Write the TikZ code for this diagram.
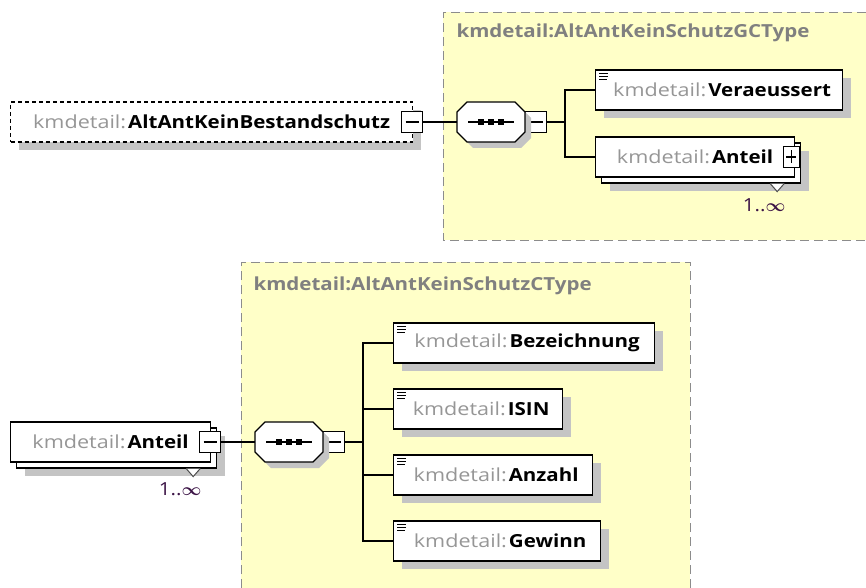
\documentclass[tikz,border=0pt]{standalone}
\usepackage{fontspec}
\setmainfont[FakeStretch=1.14]{Open Sans}
\newfontfamily\pfxfont[FakeStretch=1.2]{Open Sans}
\usetikzlibrary{shadows}

\definecolor{typebg}{RGB}{255,255,200}
\definecolor{typeline}{RGB}{140,140,140}
\definecolor{shadowgray}{RGB}{196,196,196}
\definecolor{pfxgray}{RGB}{150,150,150}
\definecolor{titlegray}{RGB}{128,128,128}
\definecolor{occcolor}{RGB}{60,20,70}

\newcommand{\kmname}[1]{{\pfxfont\color{pfxgray}kmdetail:}\hspace{2pt}\textbf{#1}}

\begin{document}
\begin{tikzpicture}[x=1pt,y=-1pt,font=\fontsize{18}{21}\selectfont,
    box/.style={draw, line width=1.2pt, fill=white, minimum height=40, inner sep=0pt},
    elem/.style={box, general shadow={shadow xshift=8pt, shadow yshift=-8pt, fill=shadowgray}},
    optelem/.style={elem, dash pattern=on 4pt off 3pt},
    multielem/.style={box,
        general shadow={shadow xshift=14pt, shadow yshift=-14pt, fill=shadowgray},
        general shadow={shadow xshift=6pt, shadow yshift=-6pt, fill=white, draw=black, line width=1.2pt}},
    seqnode/.style={minimum width=68, minimum height=40, inner sep=0pt},
    sign/.style={draw, line width=1.2pt, fill=white, minimum width=21, minimum height=21, inner sep=0pt},
    minus/.style={sign, path picture={\draw[line width=1.2pt] ([xshift=4pt]path picture bounding box.west) -- ([xshift=-4pt]path picture bounding box.east);}},
    plus/.style={sign, minimum width=16, path picture={
        \draw[line width=1.2pt] ([xshift=3pt]path picture bounding box.west) -- ([xshift=-3pt]path picture bounding box.east);
        \draw[line width=1.2pt] ([yshift=-4pt]path picture bounding box.north) -- ([yshift=4pt]path picture bounding box.south);}},
    typetitle/.style={anchor=west, text=titlegray, font=\fontsize{18}{21}\selectfont\bfseries},
    occ/.style={text=occcolor, inner sep=0pt},
    conn/.style={line width=1.2pt},
    docicon/.style={line width=1pt}]
\useasboundingbox (0,0) rectangle (866,588);

% complex type areas
\fill[typebg] (443,12) rectangle (866,240);
\draw[typeline, dash pattern=on 9pt off 5pt] (866,12) -- (443,12) -- (443,240) -- (866,240);
\node[typetitle] (titleGC) at (453,33) {kmdetail:AltAntKeinSchutzGCType};
\fill[typebg] (241,262) rectangle (690,588);
\draw[typeline, dash pattern=on 9pt off 5pt] (241,588) -- (241,262) -- (690,262) -- (690,588);
\node[typetitle] (titleC) at (250,286) {kmdetail:AltAntKeinSchutzCType};

% upper diagram
\node[optelem, minimum width=402, anchor=west] (root) at (10,122) {\kmname{AltAntKeinBestandschutz}\hspace{10pt}};
\node[minus] (mRoot) at ([xshift=-1pt]root.east) {};
\node[seqnode] (seqTop) at (491,122) {};
\node[minus, anchor=west] (mSeqTop) at (seqTop.east) {};
\coordinate (forkTop) at (565,122);
\node[elem, minimum width=247, anchor=west] (Veraeussert) at (595,90) {\hspace{6pt}\kmname{Veraeussert}};
\node[multielem, minimum width=199, anchor=west] (AnteilTop) at (595,157) {\kmname{Anteil}\hspace{14pt}};
\node[plus] (pAnteilTop) at ([xshift=-4pt]AnteilTop.east) {};

% lower diagram
\node[multielem, minimum width=200, anchor=west] (Anteil) at (10,442) {\kmname{Anteil}\hspace{16pt}};
\node[minus] (mAnteil) at ([xshift=-1pt]Anteil.east) {};
\node[seqnode] (seqBot) at (289,442) {};
\node[minus, anchor=west] (mSeqBot) at (seqBot.east) {};
\coordinate (forkBot) at (363,442);
\node[elem, minimum width=261, anchor=west] (Bezeichnung) at (393,343) {\hspace{6pt}\kmname{Bezeichnung}};
\node[elem, minimum width=169, anchor=west] (ISIN) at (393,409) {\hspace{6pt}\kmname{ISIN}};
\node[elem, minimum width=199, anchor=west] (Anzahl) at (393,475) {\hspace{6pt}\kmname{Anzahl}};
\node[elem, minimum width=207, anchor=west] (Gewinn) at (393,541) {\hspace{6pt}\kmname{Gewinn}};

% sequence symbols
\foreach \s in {seqTop,seqBot} {
    \fill[shadowgray] ([shift={(-28,-4)}]\s.center) -- ++(10,-10) -- ++(48,0) -- ++(10,10) -- ++(0,20) -- ++(-10,10) -- ++(-48,0) -- ++(-10,-10) -- cycle;
    \draw[line width=1.2pt, fill=white] ([shift={(-34,-10)}]\s.center) -- ++(10,-10) -- ++(48,0) -- ++(10,10) -- ++(0,20) -- ++(-10,10) -- ++(-48,0) -- ++(-10,-10) -- cycle;
    \draw[line width=1.2pt] ([xshift=-23pt]\s.center) -- ([xshift=23pt]\s.center);
    \foreach \dx in {-10,0,10}
        \fill ([xshift=\dx pt]\s.center) +(-3,-3) rectangle +(3,3);
}

% documentation icons
\foreach \n in {Veraeussert,Bezeichnung,ISIN,Anzahl,Gewinn}
    \draw[docicon] ([shift={(4,4)}]\n.north west) -- +(9,0) +(0,3) -- +(9,3) +(0,6) -- +(8,6);

% multiplicity marks
\foreach \n in {AnteilTop,Anteil} {
    \draw[line width=1pt, fill=white, draw=black!70] ([shift={(-25,6)}]\n.south east) -- ([shift={(-18,14)}]\n.south east) -- ([shift={(-11,6)}]\n.south east);
}
\node[occ] (occTop) at ([shift={(-31,28)}]AnteilTop.south east) {1..{\boldmath$\infty$}};
\node[occ] (occBot) at ([shift={(-31,27)}]Anteil.south east) {1..{\boldmath$\infty$}};

% connectors
\draw[conn] (mRoot) -- (seqTop);
\draw[conn] (mSeqTop) -- (forkTop);
\draw[conn] (forkTop) |- (Veraeussert);
\draw[conn] (forkTop) |- (AnteilTop);
\draw[conn] (mAnteil) -- (seqBot);
\draw[conn] (mSeqBot) -- (forkBot);
\foreach \n in {Bezeichnung,ISIN,Anzahl,Gewinn}
    \draw[conn] (forkBot) |- (\n);
\end{tikzpicture}
\end{document}
